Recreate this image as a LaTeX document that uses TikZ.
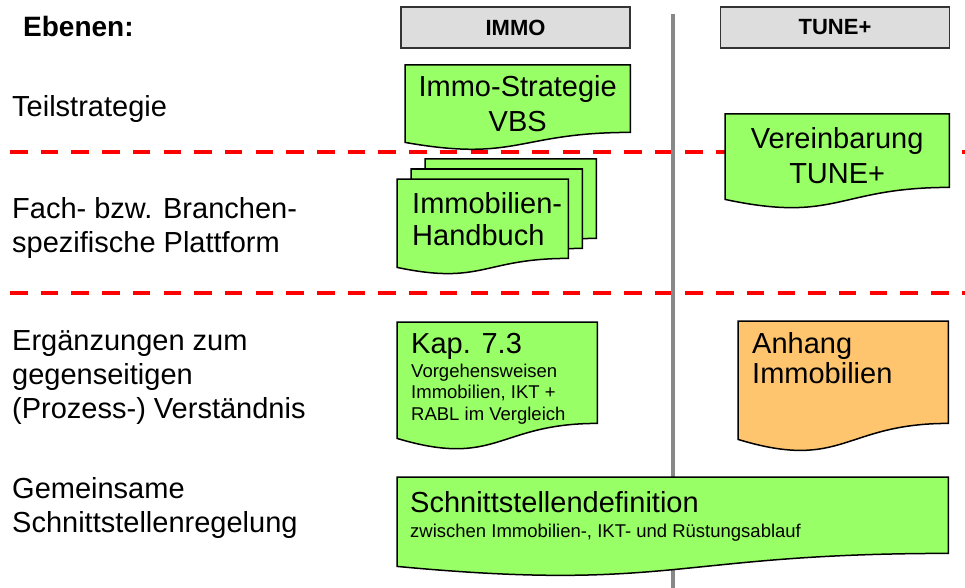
\documentclass[tikz,border=0pt]{standalone}
\usepackage{fontspec}
\setmainfont{Liberation Sans}
\usepackage{xcolor}
\definecolor{cDoc}{HTML}{99FF66}
\definecolor{cDocAlt}{HTML}{FFC46E}
\definecolor{cHead}{HTML}{DDDDDD}
\definecolor{cEdge}{HTML}{333333}
\definecolor{cAxis}{HTML}{888888}
\definecolor{cSep}{HTML}{FF0000}
\usepackage{tikz}
\usetikzlibrary{positioning,calc}
\pgfdeclarelayer{lines}
\pgfdeclarelayer{docs}
\pgfsetlayers{lines,docs,main}
\tikzset{
  node-head/.style={draw=cEdge,line width=1.5pt,fill=cHead,minimum width=229pt,
    minimum height=41pt,inner sep=0pt,font=\fontsize{22}{26}\selectfont\bfseries},
  node-frame/.style={rectangle,inner sep=0pt,anchor=north west},
  node-level/.style={anchor=base west,align=left,inner sep=0pt,
    font=\fontsize{29}{34}\selectfont},
  node-text/.style={inner sep=0pt,font=\fontsize{29}{34}\selectfont},
  node-small/.style={inner sep=0pt,anchor=base west,align=left,
    font=\fontsize{18.5}{21.5}\selectfont},
  doc-line/.style={draw=black,line width=1.5pt,line join=miter},
  sep-line/.style={draw=cSep,line width=4pt,dash pattern=on 17.5pt off 13.2pt},
  axis-line/.style={draw=cAxis,line width=4pt},
}
% Umriss eines Dokuments: #1 Fuellung, #2 Rahmenknoten, #3 Anhebung rechts unten
\newcommand\docshape[3][cDoc]{%
  \begin{pgfonlayer}{docs}
    \path[doc-line,fill=#1] (#2.north west) -- (#2.north east)
      -- ([yshift=#3]#2.south east)
      .. controls ([yshift=#3]#2.south) and ([yshift=-2*#3]#2.south) .. (#2.south west)
      -- cycle;
  \end{pgfonlayer}}

\begin{document}
\begin{tikzpicture}[x=1pt,y=-1pt]
  \useasboundingbox (0,0) rectangle (965,588);

  \begin{pgfonlayer}{lines}
    \coordinate (sep1-w) at (10,152);  \coordinate (sep1-e) at (965,152);
    \coordinate (sep2-w) at (10,293);  \coordinate (sep2-e) at (965,293);
    \coordinate (axis-n) at (673,14);  \coordinate (axis-s) at (673,588);
    \draw[sep-line] (sep1-w) -- (sep1-e);
    \draw[sep-line] (sep2-w) -- (sep2-e);
    \draw[axis-line] (axis-n) -- (axis-s);
  \end{pgfonlayer}

  \node[node-head] (immo) at (515.5,27.5) {IMMO};
  \node[node-head] (tune) at (835,27.5)   {TUNE+};

  % mehrzeilige Knoten: base = Grundlinie der letzten Zeile
  \node[node-level,font=\fontsize{28}{34}\selectfont\bfseries] (ebenen) at (23,37) {Ebenen:};
  \node[node-level] (l-teil) at (12,117) {Teilstrategie};
  \node[node-level] (l-fach) at (12,252) {Fach- bzw. Branchen-\\spezifische Plattform};
  \node[node-level] (l-erg)  at (12,418) {Ergänzungen zum\\gegenseitigen\\(Prozess-) Verständnis};
  \node[node-level] (l-gem)  at (12,532) {Gemeinsame\\Schnittstellenregelung};

  \node[node-frame,minimum width=225pt,minimum height=77pt] (vbs) at (405,65) {};
  \docshape{vbs}{10pt}
  \node[node-text,align=center,anchor=base,font=\fontsize{29}{35}\selectfont] (vbs-text)
    at ($(vbs.north)+(0,67)$) {Immo-Strategie\\VBS};

  \node[node-frame,minimum width=224pt,minimum height=85pt] (vereinb) at (725,114) {};
  \docshape{vereinb}{12pt}
  \node[node-text,align=center,anchor=base,font=\fontsize{29}{35}\selectfont] (vereinb-text)
    at ($(vereinb.north)+(0,69)$) {Vereinbarung\\TUNE+};

  \node[node-frame,minimum width=171pt,minimum height=88pt] (hb-3) at (425,159) {};
  \node[node-frame,minimum width=171pt,minimum height=88pt] (hb-2) at (411,169) {};
  \node[node-frame,minimum width=171pt,minimum height=88pt] (hb)   at (397,179) {};
  \docshape{hb-3}{9pt}
  \docshape{hb-2}{9pt}
  \docshape{hb}{9pt}
  \node[node-text,align=left,anchor=base west,font=\fontsize{29}{32}\selectfont] (hb-text)
    at ($(hb.north west)+(15,66)$) {Immobilien-\\Handbuch};

  \node[node-frame,minimum width=200pt,minimum height=116pt] (kap) at (397,322) {};
  \docshape{kap}{15pt}
  \node[node-text,anchor=base west] (kap-title) at ($(kap.north west)+(14,31)$) {Kap. 7.3};
  \node[node-small] (kap-sub) at ($(kap.north west)+(14,98)$)
    {Vorgehensweisen\\Immobilien, IKT +\\RABL im Vergleich};

  \node[node-frame,minimum width=210pt,minimum height=118pt] (anhang) at (738,321) {};
  \docshape[cDocAlt]{anhang}{16pt}
  \node[node-text,align=left,anchor=base west,font=\fontsize{29}{30}\selectfont] (anhang-text)
    at ($(anhang.north west)+(14,62)$) {Anhang\\Immobilien};

  \node[node-frame,minimum width=551pt,minimum height=89pt] (schnitt) at (397,477) {};
  \docshape{schnitt}{13pt}
  \node[node-text,anchor=base west] (schnitt-title) at ($(schnitt.north west)+(13,35)$)
    {Schnittstellendefinition};
  \node[node-small] (schnitt-sub) at ($(schnitt.north west)+(13,60)$)
    {zwischen Immobilien-, IKT- und Rüstungsablauf};
\end{tikzpicture}
\end{document}
